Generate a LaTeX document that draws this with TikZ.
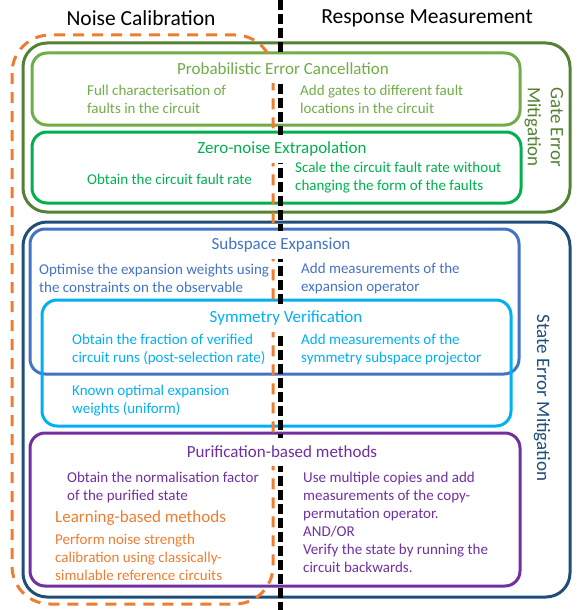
\documentclass[tikz,border=0pt]{standalone}
\usepackage{fontspec}
\setmainfont{Carlito}
\definecolor{gatec}{HTML}{548235}
\definecolor{pecc}{HTML}{70AD47}
\definecolor{znec}{HTML}{00B050}
\definecolor{statec}{HTML}{1F4E79}
\definecolor{subc}{HTML}{4472C4}
\definecolor{symc}{HTML}{00B0F0}
\definecolor{purc}{HTML}{7030A0}
\definecolor{orc}{HTML}{ED7D31}
\begin{document}
\begin{tikzpicture}[x=1pt,y=-1pt,
  outerbox/.style={draw=#1,line width=3pt,rounded corners=24pt,inner sep=0pt,outer sep=0pt},
  innerbox/.style={draw=#1,line width=3pt,rounded corners=15pt,inner sep=0pt,outer sep=0pt},
  ttl/.style={text=#1,fill=white,font=\fontsize{17}{20}\selectfont,minimum height=28pt,inner xsep=3pt,inner ysep=0pt},
  body/.style={text=#1,font=\fontsize{15}{18}\selectfont,align=left,anchor=west,inner sep=0pt},
  sidelbl/.style={text=#1,font=\fontsize{19}{23}\selectfont,align=center,rotate=-90},
  header/.style={font=\fontsize{21.5}{25}\selectfont},
  sepline/.style={line width=5pt,dash pattern=on 10pt off 4pt},
  calib/.style={draw=orc,line width=3pt,dash pattern=on 11pt off 8pt,rounded corners=38pt},
]
\useasboundingbox (0,0) rectangle (581,610);
% headers
\node[header] (hnc) at (141,18) {Noise Calibration};
\node[header] (hrm) at (427,18) {Response Measurement};
% boxes
\node[outerbox=gatec,minimum width=547pt,minimum height=169pt] (gate) at (296.5,127.5) {};
\node[innerbox=pecc,minimum width=488pt,minimum height=72pt] (pec) at (276,89) {};
\node[innerbox=znec,minimum width=489pt,minimum height=71pt] (zne) at (276.5,167.5) {};
\node[outerbox=statec,minimum width=547pt,minimum height=375pt] (state) at (296.5,409.5) {};
\node[innerbox=subc,minimum width=489pt,minimum height=145pt] (sub) at (274.5,301.5) {};
\node[innerbox=symc,minimum width=469pt,minimum height=126pt] (sym) at (276.5,363) {};
\node[innerbox=purc,minimum width=490pt,minimum height=153pt] (pur) at (275,509.5) {};
% separating lines
\coordinate (septop) at (280,0);
\coordinate (sepbot) at (280,610);
\draw[sepline] (septop) -- (sepbot);
\coordinate (calA) at (12,35);
\coordinate (calB) at (273,604);
\draw[calib] (calA) rectangle (calB);
% titles
\node[ttl=pecc] (pect) at (283,69) {Probabilistic Error Cancellation};
\node[ttl=znec] (znet) at (282,149) {Zero-noise Extrapolation};
\node[ttl=subc] (subt) at (281,245) {Subspace Expansion};
\node[ttl=symc] (symt) at (286,318) {Symmetry Verification};
\node[ttl=purc] (purt) at (282,452) {Purification-based methods};
% body texts
\node[body=pecc] (pecl) at (87,99) {Full characterisation of\\faults in the circuit};
\node[body=pecc] (pecr) at (300,99) {Add gates to different fault\\locations in the circuit};
\node[body=znec] (znel) at (87,179) {Obtain the circuit fault rate};
\node[body=znec] (zner) at (295,178) {Scale the circuit fault rate without\\changing the form of the faults};
\node[body=subc] (subl) at (39,278.5) {Optimise the expansion weights using\\the constraints on the observable};
\node[body=subc] (subr) at (301,278.5) {Add measurements of the\\expansion operator};
\node[body=symc] (syml) at (72,349.5) {Obtain the fraction of verified\\circuit runs (post-selection rate)};
\node[body=symc] (symr) at (301,349.5) {Add measurements of the\\symmetry subspace projector};
\node[body=symc] (symk) at (72,401) {Known optimal expansion\\weights (uniform)};
\node[body=purc] (purl) at (67,487) {Obtain the normalisation factor\\of the purified state};
\node[body=orc,font=\fontsize{17}{20}\selectfont] (lbt) at (55,518) {Learning-based methods};
\node[body=orc] (lbb) at (55,557.5) {Perform noise strength\\calibration using classically-\\simulable reference circuits};
\node[body=purc] (purr) at (303,522.5) {Use multiple copies and add\\measurements of the copy-\\permutation operator.\\AND/OR\\Verify the state by running the\\circuit backwards.};
% side labels
\node[sidelbl=gatec] (gatel) at (544,127) {Gate Error\\Mitigation};
\node[sidelbl=statec] (statel) at (542,398) {State Error Mitigation};
\end{tikzpicture}
\end{document}
